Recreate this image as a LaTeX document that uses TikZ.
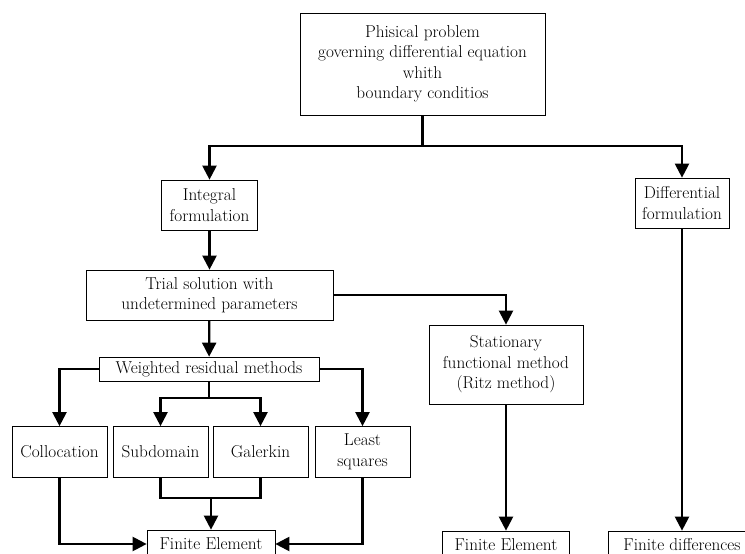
\documentclass[tikz,border=0pt]{standalone}
\usetikzlibrary{arrows.meta}
\begin{document}
\begin{tikzpicture}[x=1pt, y=-1pt,
    box/.style={draw, line width=0.7pt, align=center, inner sep=0pt,
                font=\fontsize{17.2}{20.5}\selectfont},
    line/.style={line width=2.2pt},
    flow/.style={line width=2.2pt, -{Triangle[length=14pt,width=14pt]}}]
    \path[use as bounding box] (0,0) rectangle (745,554);
    \clip (0,0) rectangle (745,554);
    % boxes
    \node[box, minimum width=245, minimum height=102] (phys) at (422.5,64)
        {Phisical problem\\governing differential equation\\whith\\boundary conditios};
    \node[box, minimum width=96, minimum height=50] (integ) at (209.5,205) {Integral\\formulation};
    \node[box, minimum width=94, minimum height=50] (diff) at (682,203) {Differential\\formulation};
    \node[box, minimum width=247, minimum height=50] (trial) at (209.5,295)
        {Trial solution with\\undetermined parameters};
    \node[box, minimum width=154, minimum height=79] (ritz) at (506,364.5)
        {Stationary\\functional method\\(Ritz method)};
    \node[box, minimum width=220, minimum height=24] (weighted) at (209,369) {Weighted residual methods};
    \node[box, minimum width=95, minimum height=51] (colloc) at (59.5,452) {Collocation};
    \node[box, minimum width=95, minimum height=51] (subdom) at (160.5,452) {Subdomain};
    \node[box, minimum width=95, minimum height=51] (galerkin) at (260.5,452) {Galerkin};
    \node[box, minimum width=95, minimum height=51] (lsq) at (362.5,452) {Least\\squares};
    \node[box, minimum width=128, minimum height=28] (fe1) at (211,544) {Finite Element};
    \node[box, minimum width=127, minimum height=28] (fe2) at (506,545) {Finite Element};
    \node[box, minimum width=148, minimum height=28] (fdiff) at (682,545) {Finite differences};
    % junctions
    \coordinate (split) at (422.5,146);
    \coordinate (branch) at (209,398);
    \coordinate (merge) at (211,498);
    % connectors
    \draw[line] (phys.south) -- (split);
    \draw[flow] (split) -| (integ);
    \draw[flow] (split) -| (diff);
    \draw[flow] (integ) -- (trial);
    \draw[flow] (trial.east) -| (ritz);
    \draw[flow] (ritz) -- (fe2);
    \draw[flow] (diff) -- (fdiff);
    \draw[flow] (trial) -- (weighted);
    \draw[flow] (weighted.west) -| (colloc);
    \draw[flow] (weighted.east) -| (lsq);
    \draw[line] (weighted.south) -- (branch);
    \draw[flow] (branch) -| (subdom);
    \draw[flow] (branch) -| (galerkin);
    \draw[line] (subdom.south) |- (merge) -| (galerkin.south);
    \draw[flow] (merge) -- (fe1);
    \draw[flow] (colloc) |- (fe1);
    \draw[flow] (lsq) |- (fe1);
\end{tikzpicture}
\end{document}
